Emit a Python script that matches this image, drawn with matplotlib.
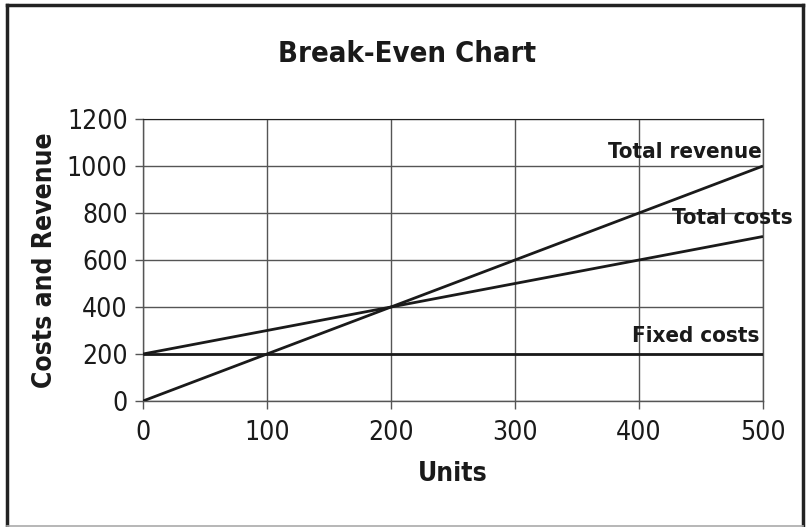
import matplotlib
matplotlib.use("Agg")
import matplotlib.pyplot as plt
from matplotlib.lines import Line2D

units = [0, 500]
fixed_costs = [200, 200]
total_costs = [200, 700]
total_revenue = [0, 1000]
x_ticks = [0, 100, 200, 300, 400, 500]
y_ticks = [0, 200, 400, 600, 800, 1000, 1200]

plt.rcParams['font.family'] = ['DejaVu Sans']
plt.rcParams['font.stretch'] = 'condensed'

ink = '#1a1a1a'
fig = plt.figure(figsize=(8.1, 5.27), dpi=100)
ax = fig.add_axes([143/810, 1-401/527, 620/810, 282/527])

ax.plot(units, total_revenue, color=ink, lw=2.0, solid_capstyle='butt', zorder=3)
ax.plot(units, total_costs, color=ink, lw=2.0, solid_capstyle='butt', zorder=3)
ax.plot(units, fixed_costs, color=ink, lw=2.0, solid_capstyle='butt', zorder=3)

ax.set_xlim(0, 500)
ax.set_ylim(0, 1200)
ax.set_xticks(x_ticks)
ax.set_yticks(y_ticks)
ax.grid(True, color='#555555', lw=1.0)
for s in ['left', 'bottom', 'right']:
    ax.spines[s].set_color('#555555')
    ax.spines[s].set_linewidth(1.0)
ax.spines['top'].set_color('#222222')
ax.tick_params(axis='both', length=6, width=1.0, color='#555555', labelsize=19, labelcolor=ink)
ax.tick_params(axis='x', pad=8)
ax.tick_params(axis='y', pad=5)

ax.set_xlabel('Units', fontsize=19, fontweight='bold', color=ink, va='center')
ax.xaxis.set_label_coords(0.5, (401-474)/282)
ax.set_ylabel('Costs and Revenue', fontsize=19, fontweight='bold', color=ink, va='center')
ax.yaxis.set_label_coords((45-143)/620, 0.5)
fig.text(407/810, 1-54/527, 'Break-Even Chart', ha='center', va='center', fontsize=21, fontweight='bold', color=ink)

ax.text(499, 1060, 'Total revenue', ha='right', va='center', fontsize=16, fontweight='bold', color=ink, zorder=4)
ax.text(524, 779, 'Total costs', ha='right', va='center', fontsize=16, fontweight='bold', color=ink, zorder=4, clip_on=False)
ax.text(497, 277, 'Fixed costs', ha='right', va='center', fontsize=16, fontweight='bold', color=ink, zorder=4)

# outer frame
fig.add_artist(Line2D([7/810, 7/810], [1-525/527, 1-5/527], color='#222222', lw=2.5, transform=fig.transFigure))
fig.add_artist(Line2D([7/810, 803/810], [1-5/527, 1-5/527], color='#222222', lw=2.5, transform=fig.transFigure))
fig.add_artist(Line2D([803/810, 803/810], [1-525/527, 1-5/527], color='#222222', lw=2.5, transform=fig.transFigure))
fig.add_artist(Line2D([7/810, 803/810], [1-525.5/527, 1-525.5/527], color='#aaaaaa', lw=1.2, transform=fig.transFigure))

fig.savefig('out.png', dpi=100)
